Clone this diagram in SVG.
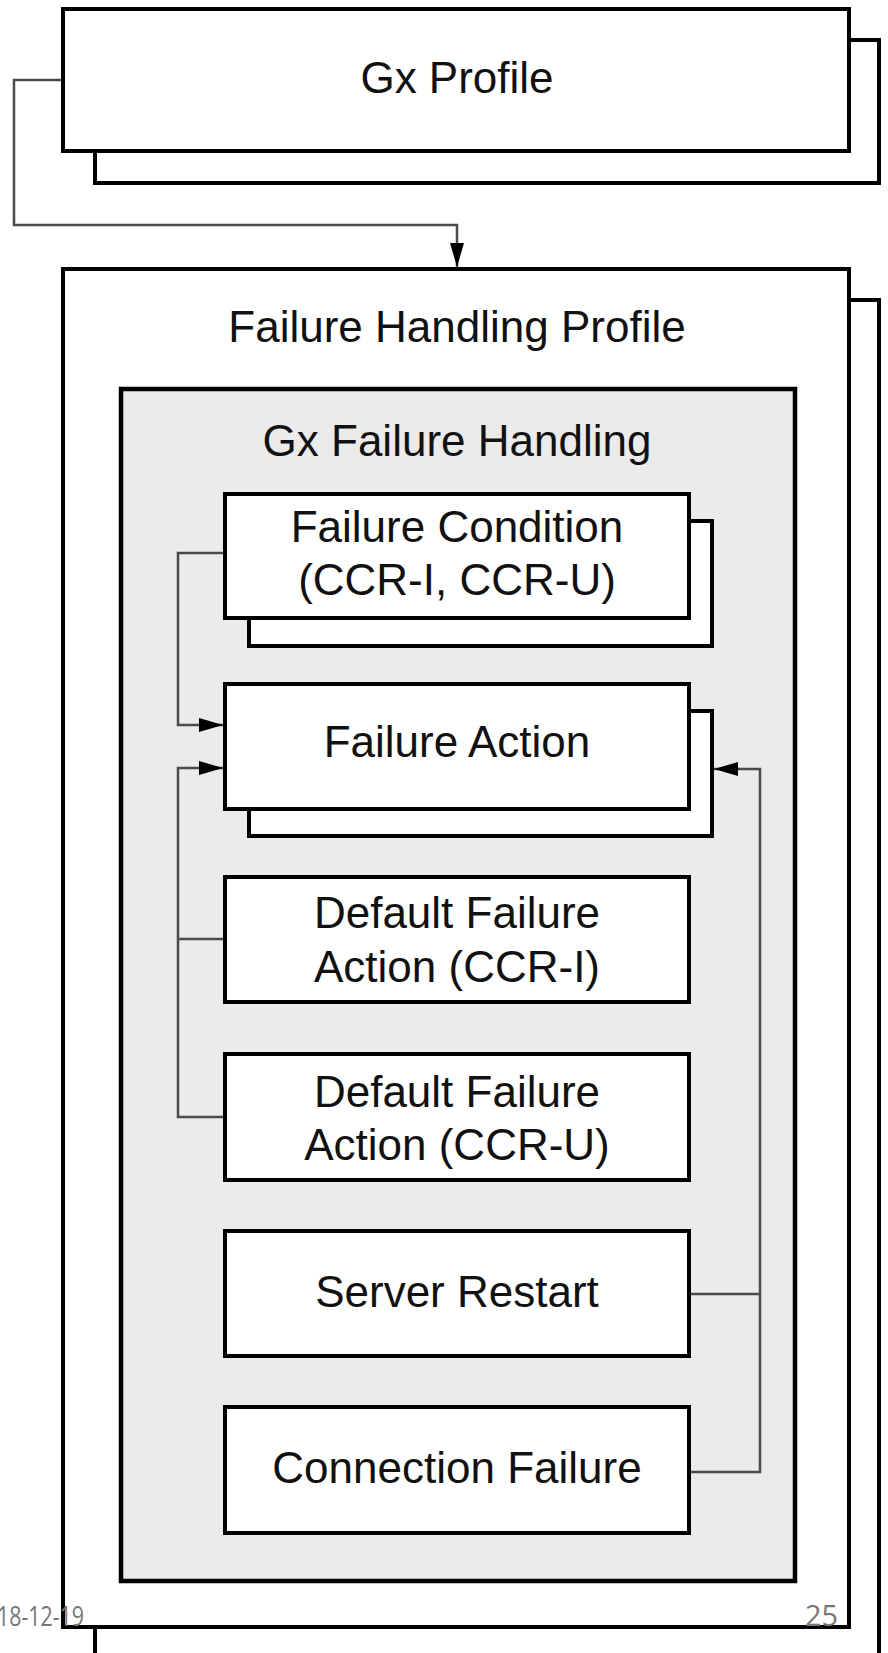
<svg xmlns="http://www.w3.org/2000/svg" width="888" height="1653" viewBox="0 0 888 1653">
<style>
.box{fill:#ffffff;stroke:#000000;stroke-width:4}
.grp{fill:#ebebeb;stroke:#000000;stroke-width:4.5}
.lbl{font-family:'Liberation Sans',Arial,Helvetica,sans-serif;font-size:44px;fill:#111111;text-anchor:middle}
.conn{fill:none;stroke:#4a4a4a;stroke-width:2.5}
.foot{font-family:'Open Sans','Liberation Sans',sans-serif;fill:#777777}
</style>
<defs>
<marker id="arr" markerUnits="userSpaceOnUse" markerWidth="26" markerHeight="16" refX="24" refY="7" orient="auto">
<path d="M0,0 L24,7 L0,14 z" fill="#000000"/>
</marker>
</defs>
<rect width="888" height="1653" fill="#ffffff"/>

<g id="gx-profile">
<rect class="box" x="95" y="40" width="784" height="143"/>
<rect class="box" x="63" y="9" width="786" height="142"/>
<text class="lbl" x="457" y="93" font-family="Liberation Sans, Arial, sans-serif">Gx Profile</text>
</g>

<g id="failure-handling-profile">
<rect class="box" x="95" y="300" width="784" height="1380"/>
<rect class="box" x="63" y="269" width="786" height="1358"/>
<text class="lbl" x="457" y="342" font-family="Liberation Sans, Arial, sans-serif">Failure Handling Profile</text>
</g>

<g id="gx-failure-handling">
<rect class="grp" x="121" y="389" width="674" height="1192"/>
<text class="lbl" x="457" y="456" font-family="Liberation Sans, Arial, sans-serif">Gx Failure Handling</text>
</g>

<g id="failure-condition">
<rect class="box" x="249" y="521" width="463" height="125"/>
<rect class="box" x="225" y="494" width="464" height="124"/>
<text class="lbl" x="457" y="542" font-family="Liberation Sans, Arial, sans-serif">Failure Condition</text>
<text class="lbl" x="457" y="595" font-family="Liberation Sans, Arial, sans-serif">(CCR-I, CCR-U)</text>
</g>

<g id="failure-action">
<rect class="box" x="249" y="711" width="463" height="125"/>
<rect class="box" x="225" y="684" width="464" height="125"/>
<text class="lbl" x="457" y="757" font-family="Liberation Sans, Arial, sans-serif">Failure Action</text>
</g>

<g id="default-failure-action-ccr-i">
<rect class="box" x="225" y="877" width="464" height="125"/>
<text class="lbl" x="457" y="928" font-family="Liberation Sans, Arial, sans-serif">Default Failure</text>
<text class="lbl" x="457" y="982" font-family="Liberation Sans, Arial, sans-serif">Action (CCR-I)</text>
</g>

<g id="default-failure-action-ccr-u">
<rect class="box" x="225" y="1054" width="464" height="126"/>
<text class="lbl" x="457" y="1107" font-family="Liberation Sans, Arial, sans-serif">Default Failure</text>
<text class="lbl" x="457" y="1160" font-family="Liberation Sans, Arial, sans-serif">Action (CCR-U)</text>
</g>

<g id="server-restart">
<rect class="box" x="225" y="1231" width="464" height="125"/>
<text class="lbl" x="457" y="1307" font-family="Liberation Sans, Arial, sans-serif">Server Restart</text>
</g>

<g id="connection-failure">
<rect class="box" x="225" y="1407" width="464" height="126"/>
<text class="lbl" x="457" y="1483" font-family="Liberation Sans, Arial, sans-serif">Connection Failure</text>
</g>

<g id="connectors">
<path class="conn" d="M61,80 H14 V225 H457 V267" marker-end="url(#arr)"/>
<path class="conn" d="M223,553 H178 V725 H223" marker-end="url(#arr)"/>
<path class="conn" d="M223,1117 H178 V768 H223" marker-end="url(#arr)"/>
<path class="conn" d="M223,939 H178"/>
<path class="conn" d="M691,1472 H760 V769 H714" marker-end="url(#arr)"/>
<path class="conn" d="M691,1294 H760"/>
</g>

<g id="footer">
<text class="foot" x="-3" y="1626" font-size="27" textLength="87" lengthAdjust="spacingAndGlyphs">18-12-19</text>
<text class="foot" x="805" y="1626" font-size="30" textLength="33" lengthAdjust="spacingAndGlyphs">25</text>
</g>
</svg>
